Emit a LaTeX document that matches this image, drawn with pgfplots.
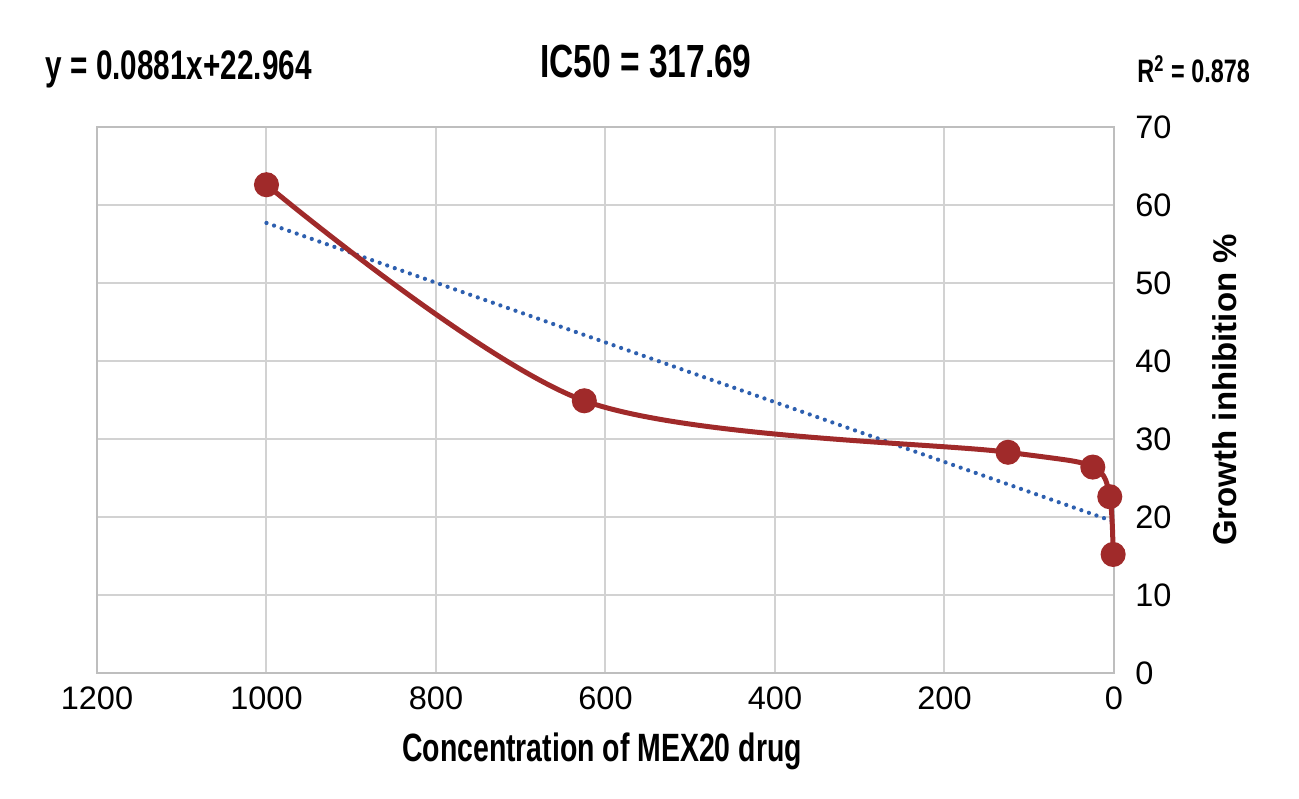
\documentclass[border=0pt]{standalone}
\usepackage{pgfplots}
\pgfplotsset{compat=1.18}
\usepackage{fontspec}
\setmainfont{Liberation Sans}
\newfontfamily\condfont[FakeStretch=0.72]{Liberation Sans Bold}
\definecolor{curvered}{RGB}{160,42,42}
\definecolor{trendblue}{RGB}{45,95,175}
\definecolor{gridgray}{RGB}{210,210,210}
\definecolor{framegray}{RGB}{190,190,190}

% measured growth inhibition vs. concentration
\pgfplotstableread{
conc  inhib
1000  62.6
625   34.9
125   28.3
25    26.4
5     22.6
1     15.2
}\inhibdata

% fitted linear trend (as plotted)
\pgfplotstableread{
conc  fit
1000  57.7
0     19.4
}\trenddata

\begin{document}
\begin{tikzpicture}[x=1pt,y=1pt]
\path[use as bounding box] (0,0) rectangle (519.6,319.2);
\begin{axis}[
  at={(38.8pt,50pt)}, anchor=south west,
  scale only axis, width=406.8pt, height=218.4pt,
  x dir=reverse,
  xmin=0, xmax=1200, ymin=0, ymax=70,
  xtick={0,200,...,1200}, ytick={0,10,...,70},
  yticklabel pos=right,
  grid=major,
  major grid style={gridgray, line width=0.8pt},
  axis line style={framegray, line width=0.8pt},
  tick style={draw=none},
  ticklabel style={font=\fontsize{13}{15}\selectfont},
  /pgf/number format/assume math mode=true,
  /pgf/number format/set thousands separator={},
  xticklabel style={yshift=-2pt},
  yticklabel style={xshift=5pt},
  clip=false,
]
\addplot[trendblue, line width=1.7pt, dash pattern=on 0pt off 3.2pt, line cap=round]
  table[x=conc, y=fit]{\trenddata};
\addplot[curvered, line width=2pt, smooth, tension=0.5,
  mark=*, mark size=4pt, mark options={fill=curvered, draw=curvered}]
  table[x=conc, y=inhib]{\inhibdata};
\end{axis}
\node[anchor=west] at (14.8,291.5) {\condfont\fontsize{16.5}{18}\selectfont y = 0.0881x+22.964};
\node at (258.4,294.4) {\condfont\fontsize{18.6}{20}\selectfont IC50 = 317.69};
\node[anchor=east] at (503.5,291.5) {\condfont\fontsize{13}{15}\selectfont R\textsuperscript{2} = 0.878};
\node at (240.8,18.6) {\condfont\fontsize{15.8}{18}\selectfont Concentration of MEX20 drug};
\node[rotate=90] at (490,163.2) {\bfseries\fontsize{13.2}{15}\selectfont Growth inhibition \%};
\end{tikzpicture}
\end{document}
